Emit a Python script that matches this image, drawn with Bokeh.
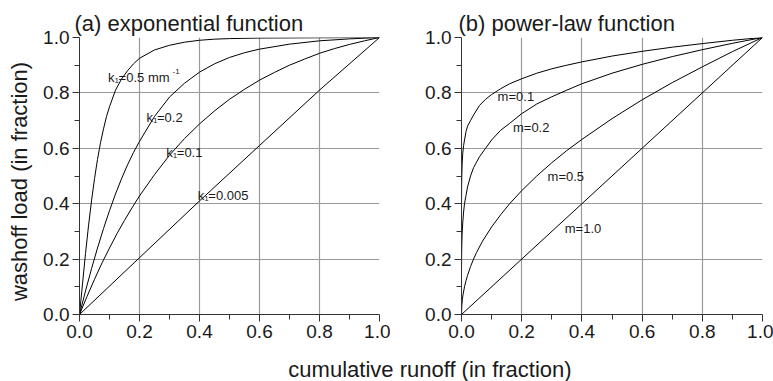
from bokeh.plotting import figure
from bokeh.models import Range1d, FixedTicker, PrintfTickFormatter, Label
from bokeh.layouts import column, row
from bokeh.embed import file_html
from bokeh.resources import INLINE
import math

FONT = "Liberation Sans"

# ---------------- data ----------------
# (a) exponential function
k05_x = [0, 0.01, 0.02, 0.03, 0.04, 0.05, 0.06, 0.07, 0.08, 0.09, 0.10, 0.12, 0.14, 0.16, 0.18, 0.20,
         0.25, 0.30, 0.35, 0.40, 0.45, 0.5, 0.6, 0.8, 1.0]
k05_y = [0, 0.11, 0.22, 0.32, 0.41, 0.49, 0.56, 0.62, 0.67, 0.715, 0.75, 0.81, 0.85, 0.88, 0.905, 0.925,
         0.955, 0.972, 0.983, 0.99, 0.994, 0.996, 0.998, 0.999, 1.0]
k02_x = [0, 0.02, 0.04, 0.06, 0.08, 0.10, 0.12, 0.14, 0.16, 0.18, 0.20, 0.25, 0.30, 0.35, 0.40, 0.45,
         0.50, 0.55, 0.6, 0.7, 0.8, 0.9, 1.0]
k02_y = [0, 0.085, 0.165, 0.24, 0.31, 0.375, 0.435, 0.49, 0.54, 0.585, 0.625, 0.715, 0.785, 0.835, 0.875, 0.905,
         0.928, 0.945, 0.958, 0.976, 0.988, 0.995, 1.0]
k01_x = [0, 0.025, 0.05, 0.075, 0.1, 0.125, 0.15, 0.175, 0.2, 0.25, 0.3, 0.35, 0.4, 0.45, 0.5, 0.55,
         0.6, 0.65, 0.7, 0.75, 0.8, 0.85, 0.9, 0.95, 1.0]
k01_y = [0, 0.065, 0.127, 0.186, 0.24, 0.292, 0.34, 0.385, 0.428, 0.505, 0.575, 0.635, 0.688, 0.735, 0.777, 0.813,
         0.846, 0.874, 0.9, 0.922, 0.943, 0.96, 0.975, 0.988, 1.0]
k0005_x = [0, 0.2, 0.4, 0.6, 0.8, 1.0]
k0005_y = [0, 0.205, 0.41, 0.61, 0.81, 1.0]

# (b) power-law function
m01_x = [0, 0.0000001, 0.000001, 0.00001, 0.0001, 0.0005, 0.001, 0.002, 0.004, 0.007, 0.01, 0.015, 0.02,
         0.03, 0.04, 0.06, 0.08, 0.1, 0.13, 0.16, 0.2, 0.25, 0.3, 0.35, 0.4, 0.5, 0.6, 0.7, 0.8, 0.9, 1.0]
m01_y = [0, 0.2, 0.25, 0.32, 0.40, 0.47, 0.50, 0.54, 0.58, 0.61, 0.63, 0.66, 0.68,
         0.70, 0.72, 0.755, 0.777, 0.794, 0.815, 0.833, 0.851, 0.871, 0.887, 0.9, 0.912, 0.933, 0.95, 0.965, 0.978, 0.99, 1.0]
m02_x = [0, 0.00001, 0.0001, 0.0005, 0.001, 0.002, 0.004, 0.007, 0.01, 0.015, 0.02, 0.03, 0.04, 0.06,
         0.08, 0.1, 0.13, 0.16, 0.2, 0.25, 0.3, 0.35, 0.4, 0.5, 0.6, 0.7, 0.8, 0.9, 1.0]
m02_y = [0, 0.10, 0.16, 0.22, 0.25, 0.29, 0.33, 0.37, 0.40, 0.43, 0.46, 0.50, 0.53, 0.57,
         0.60, 0.63, 0.665, 0.69, 0.725, 0.76, 0.786, 0.81, 0.833, 0.871, 0.903, 0.931, 0.956, 0.979, 1.0]
m05_x = [0, 0.001, 0.003, 0.005, 0.01, 0.015, 0.02, 0.03, 0.04, 0.05, 0.07, 0.1, 0.13, 0.16, 0.2,
         0.25, 0.3, 0.35, 0.4, 0.5, 0.6, 0.7, 0.8, 0.9, 1.0]
m05_y = [0, 0.032, 0.055, 0.071, 0.10, 0.122, 0.141, 0.173, 0.2, 0.224, 0.265, 0.316, 0.36, 0.4, 0.447,
         0.5, 0.548, 0.592, 0.632, 0.707, 0.775, 0.837, 0.894, 0.949, 1.0]
m10_x = [0, 1.0]
m10_y = [0, 1.0]

major_ticks = [0.0, 0.2, 0.4, 0.6, 0.8, 1.0]
minor_ticks = [0.1, 0.3, 0.5, 0.7, 0.9]

k_values = ["0.5 mm", "0.2", "0.1", "0.005"]
k_pos = [(0.095, 0.856), (0.223, 0.7125), (0.289, 0.585), (0.394, 0.431)]
m_labels = ["m=0.1", "m=0.2", "m=0.5", "m=1.0"]
m_pos = [(0.12, 0.786), (0.171, 0.675), (0.286, 0.497), (0.343, 0.31)]

titles = ["(a) exponential function", "(b) power-law function"]
y_title = "washoff load (in fraction)"
x_title = "cumulative runoff (in fraction)"

TXT = "#1a1a1a"
GRID = "#9a9a9a"
AX = "#333333"
H = 354
STRIP_W = 40


def make_panel(width, left, right, top, frame_h, bottom, title):
    p = figure(width=width, height=top + frame_h + bottom,
               x_range=Range1d(0, 1), y_range=Range1d(0, 1), title=title,
               output_backend="svg", toolbar_location=None,
               min_border_left=left, min_border_right=right,
               min_border_top=top, min_border_bottom=bottom)
    p.outline_line_color = None
    p.background_fill_color = "white"
    p.title.text_font = FONT
    p.title.text_font_size = "22px"
    p.title.text_font_style = "normal"
    p.title.text_color = TXT
    p.title.align = "left"
    p.title.standoff = 3
    for ax in (p.xaxis[0], p.yaxis[0]):
        ax.ticker = FixedTicker(ticks=major_ticks, minor_ticks=minor_ticks)
        ax.formatter = PrintfTickFormatter(format="%.1f")
        ax.axis_line_color = AX
        ax.axis_line_width = 1
        ax.major_tick_line_color = AX
        ax.minor_tick_line_color = AX
        ax.major_tick_in = 0
        ax.major_tick_out = 7
        ax.minor_tick_in = 0
        ax.minor_tick_out = 5
        ax.major_label_text_font = FONT
        ax.major_label_text_font_size = "19px"
        ax.major_label_text_color = TXT
        ax.major_label_standoff = 3
    for g in (p.xgrid[0], p.ygrid[0]):
        g.ticker = FixedTicker(ticks=major_ticks)
        g.grid_line_color = GRID
        g.grid_line_width = 1.2
    return p


def add_line(p, xs, ys):
    p.line(xs, ys, line_color="black", line_width=1)


p1 = make_panel(390 - STRIP_W, 78 - STRIP_W, 11, 34, 280, 40, titles[0])
p1.title.offset = -5
p2 = make_panel(383, 71, 11, 37, 277, 40, titles[1])
p2.title.offset = -3

for xs, ys in [(k05_x, k05_y), (k02_x, k02_y), (k01_x, k01_y), (k0005_x, k0005_y)]:
    add_line(p1, xs, ys)
for xs, ys in [(m01_x, m01_y), (m02_x, m02_y), (m05_x, m05_y), (m10_x, m10_y)]:
    add_line(p2, xs, ys)


def lab(p, x, y, text, size, xo=0, yo=0, **kw):
    p.add_layout(Label(x=x, y=y, text=text, x_offset=xo, y_offset=yo,
                       text_font=FONT, text_font_size=size, text_color=TXT,
                       text_baseline=kw.pop("baseline", "alphabetic"),
                       text_align=kw.pop("align", "left"), **kw))


# k labels with subscript 1
for i, (val, (x, y)) in enumerate(zip(k_values, k_pos)):
    lab(p1, x, y, "k", "13px")
    lab(p1, x, y, "1", "8px", xo=6.6, yo=-3)
    lab(p1, x, y, "=" + val, "13px", xo=10.6)
    if i == 0:
        lab(p1, x, y, "-1", "8px", xo=64.5, yo=6)

for t, (x, y) in zip(m_labels, m_pos):
    lab(p2, x, y, t, "13px")


def strip(width, height):
    s = figure(width=width, height=height, x_range=Range1d(0, width), y_range=Range1d(0, height),
               output_backend="svg", toolbar_location=None,
               min_border_left=0, min_border_right=0, min_border_top=0, min_border_bottom=0)
    s.xaxis.visible = False
    s.yaxis.visible = False
    s.grid.visible = False
    s.outline_line_color = None
    return s


# y axis title in a narrow strip at the left
p0 = strip(STRIP_W, H)
lab(p0, 19, H - 184, y_title, "22px", angle=math.pi / 2, align="center", baseline="middle")

# x axis title in a strip below
p3 = strip(773, 381 - H)
lab(p3, 429.5, (381 - H) - 15, x_title, "22px", align="center", baseline="middle")

layout = column(row(p0, p1, p2, spacing=0), p3, spacing=0)
open("out.html", "w").write(file_html(layout, INLINE))
